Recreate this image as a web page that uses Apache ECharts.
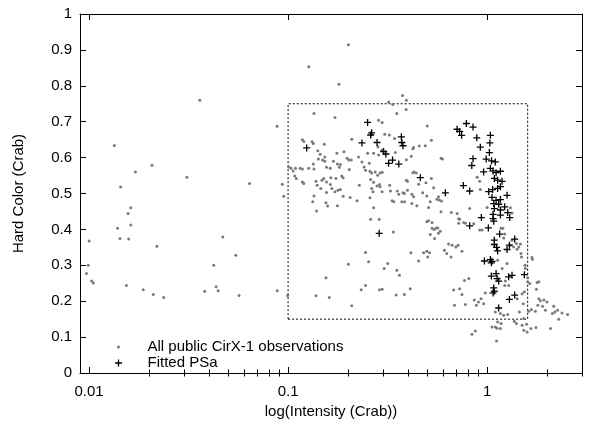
<!DOCTYPE html>
<html>
<head>
<meta charset="utf-8">
<title>Cir X-1 hardness-intensity diagram</title>
<script src="https://cdn.jsdelivr.net/npm/echarts@6/dist/echarts.min.js"></script>
<style>
  html, body { margin: 0; padding: 0; background: #fff; }
  #chart { width: 595px; height: 425px; }
</style>
</head>
<body>
<div id="chart"></div>
<script>
// [intensity (Crab), hard color (Crab)] for every public Cir X-1 observation
const allObservations = [
  [0.0097,0.277],[0.0099,0.300],[0.0100,0.368],[0.0103,0.256],[0.0105,0.251],
  [0.0134,0.634],[0.0139,0.403],[0.0143,0.375],[0.0144,0.518],[0.0154,0.244],[0.0157,0.444],[0.0158,0.373],
  [0.0162,0.460],[0.0162,0.412],[0.0171,0.560],[0.0187,0.232],[0.0207,0.579],[0.0210,0.219],[0.0219,0.353],[0.0237,0.210],
  [0.0310,0.545],[0.0360,0.760],[0.0381,0.228],[0.0423,0.300],[0.0435,0.240],[0.0445,0.229],[0.0470,0.379],
  [0.0546,0.328],[0.0567,0.216],[0.0640,0.528],[0.0880,0.687],[0.0882,0.229],[0.0935,0.526],[0.0950,0.492],[0.0995,0.216],
  [0.118,0.650],[0.127,0.853],[0.135,0.723],[0.172,0.712],[0.180,0.804],[0.201,0.914],[0.209,0.651],[0.285,0.704],
  [0.297,0.698],[0.306,0.665],[0.320,0.755],[0.323,0.663],[0.336,0.748],[0.343,0.653],[0.352,0.723],[0.376,0.773],
  [0.392,0.734],[0.393,0.760],[0.500,0.688],
  [0.120,0.645],[0.132,0.644],[0.134,0.639],[0.152,0.637],[0.141,0.619],[0.145,0.609],[0.142,0.596],[0.149,0.593],
  [0.153,0.602],[0.153,0.590],[0.176,0.612],[0.191,0.616],[0.169,0.590],[0.177,0.582],[0.183,0.581],[0.198,0.598],
  [0.202,0.593],[0.208,0.593],[0.226,0.602],[0.235,0.588],[0.251,0.612],[0.269,0.612],[0.283,0.630],[0.285,0.607],
  [0.297,0.621],[0.346,0.614],[0.416,0.604],[0.424,0.625],[0.427,0.628],[0.456,0.632],[0.489,0.633],[0.525,0.648],
  [0.393,0.594],[0.587,0.598],[0.597,0.596],
  [0.1007,0.574],[0.1035,0.570],[0.106,0.563],[0.109,0.570],[0.115,0.570],[0.118,0.568],[0.127,0.570],[0.134,0.582],
  [0.135,0.568],[0.156,0.573],[0.163,0.570],[0.181,0.573],[0.203,0.567],[0.241,0.574],[0.245,0.565],[0.256,0.584],
  [0.258,0.562],[0.263,0.557],[0.274,0.560],[0.282,0.551],[0.290,0.557],[0.297,0.559],[0.424,0.558],[0.430,0.560],[0.441,0.557],
  [0.108,0.549],[0.110,0.542],[0.118,0.532],[0.120,0.528],[0.138,0.534],[0.148,0.537],[0.151,0.542],[0.156,0.532],
  [0.164,0.544],[0.174,0.542],[0.186,0.549],[0.189,0.544],[0.140,0.523],[0.146,0.514],[0.163,0.525],[0.166,0.514],
  [0.172,0.505],[0.178,0.509],[0.183,0.511],[0.156,0.503],[0.228,0.523],[0.260,0.539],[0.269,0.531],[0.280,0.521],
  [0.288,0.525],[0.263,0.514],[0.267,0.505],[0.290,0.519],[0.297,0.505],[0.324,0.523],[0.327,0.507],[0.354,0.507],
  [0.378,0.502],[0.398,0.509],[0.393,0.537],[0.398,0.534],[0.453,0.526],[0.493,0.530],[0.525,0.542],[0.539,0.516],
  [0.891,0.545],[0.918,0.534],[0.925,0.511],
  [0.135,0.493],[0.133,0.477],[0.139,0.451],[0.155,0.474],[0.158,0.465],[0.177,0.466],[0.189,0.492],[0.205,0.489],
  [0.222,0.480],[0.258,0.488],[0.269,0.460],[0.333,0.480],[0.340,0.477],[0.360,0.498],[0.373,0.477],[0.384,0.500],
  [0.385,0.477],[0.419,0.498],[0.427,0.491],[0.419,0.472],[0.444,0.466],[0.475,0.502],[0.498,0.493],[0.518,0.477],
  [0.508,0.461],[0.560,0.484],[0.570,0.491],[0.575,0.482],[0.590,0.479],[0.587,0.449],[0.661,0.447],[0.707,0.444],
  [0.818,0.458],[1.000,0.461],[1.310,0.460],[1.335,0.446],
  [0.260,0.428],[0.287,0.428],[0.338,0.393],[0.498,0.421],[0.508,0.424],[0.529,0.419],[0.529,0.403],[0.556,0.404],
  [0.542,0.400],[0.566,0.404],[0.582,0.395],[0.518,0.386],[0.570,0.389],[0.720,0.430],[0.720,0.417],[0.728,0.428],
  [0.763,0.419],[0.778,0.417],[0.857,0.416],[0.918,0.398],[0.944,0.398],[1.176,0.403],[1.200,0.403],[1.227,0.387],
  [0.545,0.375],[0.641,0.359],[0.667,0.356],[0.697,0.351],[0.715,0.356],[0.748,0.339],[0.611,0.342],[0.627,0.333],
  [0.659,0.323],[0.414,0.335],[0.480,0.335],[0.498,0.339],[0.514,0.335],[0.503,0.323],[0.453,0.312],[0.245,0.336],
  [0.254,0.310],[0.201,0.303],[0.304,0.291],[0.317,0.305],[0.352,0.286],[0.363,0.272],[1.212,0.376],[1.335,0.370],
  [1.405,0.361],[1.443,0.351],[1.360,0.351],[1.416,0.345],[1.471,0.359],[1.310,0.356],[1.490,0.323],[1.480,0.333],
  [1.553,0.300],[1.558,0.291],[1.680,0.322],[1.690,0.317],[1.130,0.314],[1.260,0.305],[1.190,0.291],
  [0.155,0.265],[0.138,0.215],[0.161,0.210],[0.209,0.187],[0.233,0.232],[0.245,0.244],[0.288,0.232],[0.297,0.233],
  [0.349,0.217],[0.384,0.219],[0.411,0.235],[0.679,0.231],[0.728,0.235],[0.748,0.219],[0.686,0.189],[0.770,0.258],
  [0.809,0.263],[0.778,0.191],[0.862,0.203],[0.905,0.198],[0.933,0.207],[0.961,0.193],[0.884,0.189],[0.980,0.223],
  [0.873,0.117],[0.840,0.108],[1.116,0.089],
  [1.600,0.265],[1.600,0.254],[1.640,0.249],[1.540,0.226],[1.236,0.256],[1.284,0.244],[1.226,0.244],[1.416,0.207],
  [1.500,0.221],[1.520,0.193],[1.454,0.170],[1.270,0.163],[1.100,0.170],[1.167,0.166],[1.212,0.161],[1.130,0.142],
  [1.176,0.138],[1.100,0.128],[1.123,0.125],[1.059,0.128],[1.167,0.124],[1.405,0.138],[1.370,0.144],[1.500,0.133],
  [1.530,0.119],[1.590,0.114],[1.660,0.124],[1.580,0.136],[1.530,0.152],[1.760,0.127],
  [1.820,0.254],[1.785,0.252],[1.770,0.233],[1.820,0.207],[1.800,0.189],[1.855,0.201],[1.930,0.203],[2.000,0.198],
  [1.900,0.186],[1.965,0.175],[2.163,0.186],[2.190,0.170],[2.260,0.175],[2.290,0.150],[2.380,0.167],[2.130,0.166],
  [2.083,0.124],[2.540,0.163],[1.750,0.172],[1.670,0.177],[1.620,0.172]
];

// [intensity (Crab), hard color (Crab)] for the observations with a fitted PSa
const fittedPSa = [
  [0.124,0.627],[0.251,0.698],[0.263,0.669],[0.260,0.663],[0.235,0.641],[0.280,0.642],[0.371,0.658],[0.373,0.642],
  [0.378,0.633],[0.302,0.617],[0.310,0.610],[0.320,0.584],[0.335,0.593],[0.360,0.582],[0.462,0.544],[0.617,0.502],
  [0.287,0.389],
  [0.707,0.679],[0.728,0.673],[0.745,0.662],[0.787,0.695],[0.850,0.685],[0.888,0.655],[0.925,0.629],[1.039,0.662],
  [1.033,0.641],[1.027,0.614],[0.850,0.597],[0.838,0.578],[0.990,0.596],[1.053,0.591],[1.100,0.588],[0.961,0.560],
  [1.039,0.570],[1.072,0.563],[1.110,0.558],[1.167,0.562],[1.088,0.542],[1.130,0.537],[1.190,0.534],[1.067,0.511],
  [1.130,0.514],[1.167,0.519],[0.760,0.522],[0.818,0.507],[1.019,0.505],[1.059,0.489],[1.110,0.481],[1.167,0.483],
  [1.260,0.495],[1.080,0.472],[1.144,0.470],[1.226,0.463],[1.088,0.458],[1.167,0.454],[1.072,0.442],[1.167,0.440],
  [1.270,0.447],[1.300,0.433],[0.936,0.433],[1.072,0.430],[1.080,0.423],[0.818,0.410],[1.015,0.404],[1.157,0.387],
  [1.088,0.370],[1.088,0.358],[1.116,0.350],[1.130,0.340],[1.260,0.344],[1.295,0.356],[1.377,0.373],[0.970,0.312],
  [1.039,0.316],[1.051,0.307],[1.059,0.311],[1.051,0.270],[1.110,0.277],[1.123,0.263],[1.144,0.256],[1.284,0.268],
  [1.335,0.272],[1.540,0.274],[1.080,0.237],[1.072,0.223],[1.088,0.228],[1.295,0.205],[1.377,0.217],[1.144,0.181]
];

// selection window used for the PSa fits: intensity and hard-color limits
const windowIntensity = [0.1, 1.6];
const windowHardColor = [0.15, 0.75];

// axis ranges and tick labels
const xRange = [0.009, 3];
const xLabelValues = [0.01, 0.1, 1];
const xLabelText = ['0.01', '0.1', '1'];
const xMinorTicks = [0.02, 0.03, 0.04, 0.05, 0.06, 0.07, 0.08, 0.09,
                     0.2, 0.3, 0.4, 0.5, 0.6, 0.7, 0.8, 0.9, 2, 3];
const yRange = [0, 1];
const yStep = 0.1;

const seriesNames = ['All public CirX-1 observations', 'Fitted PSa'];

const FONT = '"Liberation Sans", Arial, Helvetica, sans-serif';
const FONT_SIZE = 15;
const INK = '#000';
const DOT_GREY = '#7a7a7a';

// thin filled plus, and a small dot centred in a wider box for the legend
const plusPath = 'path://M2.85,0H4.15V2.85H7V4.15H4.15V7H2.85V4.15H0V2.85H2.85Z';
const legendDotPath = 'path://M0,0M7,7M2.9,2.1L4.1,2.1L4.9,2.9L4.9,4.1L4.1,4.9L2.9,4.9L2.1,4.1L2.1,2.9Z';

function xAxisDef(position, opts) {
  return Object.assign({
    type: 'log',
    logBase: 10,
    position: position,
    min: xRange[0],
    max: xRange[1],
    splitLine: { show: false },
    axisLine: { show: false },
    axisLabel: { show: false },
    axisTick: { show: false }
  }, opts);
}

function yAxisDef(position, opts) {
  return Object.assign({
    type: 'value',
    position: position,
    min: yRange[0],
    max: yRange[1],
    interval: yStep,
    splitLine: { show: false },
    axisLine: { show: true, lineStyle: { color: INK, width: 1 } },
    axisTick: { show: true, inside: true, length: 6, lineStyle: { color: INK, width: 1 } },
    axisLabel: { show: false }
  }, opts);
}

const chart = echarts.init(document.getElementById('chart'), null, { renderer: 'canvas' });

chart.setOption({
  animation: false,
  backgroundColor: '#fff',
  textStyle: { fontFamily: FONT, color: INK },
  grid: { left: 80, right: 13, top: 14, bottom: 52, containLabel: false },
  xAxis: [
    xAxisDef('bottom', {
      name: 'log(Intensity (Crab))',
      nameLocation: 'middle',
      nameGap: 27,
      nameTextStyle: { fontFamily: FONT, fontSize: FONT_SIZE, color: INK },
      axisLine: { show: true, onZero: false, lineStyle: { color: INK, width: 1 } },
      axisTick: { show: true, inside: true, length: 6, customValues: xLabelValues, lineStyle: { color: INK, width: 1 } },
      axisLabel: {
        show: true, margin: 11, fontFamily: FONT, fontSize: FONT_SIZE, color: INK,
        customValues: xLabelValues,
        formatter: function (v) {
          for (let i = 0; i < xLabelValues.length; i++) {
            if (Math.abs(Math.log10(v) - Math.log10(xLabelValues[i])) < 1e-6) return xLabelText[i];
          }
          return '';
        }
      }
    }),
    xAxisDef('bottom', {
      axisTick: { show: true, inside: true, length: 3.5, customValues: xMinorTicks, lineStyle: { color: INK, width: 1 } }
    }),
    xAxisDef('top', {
      axisLine: { show: true, onZero: false, lineStyle: { color: INK, width: 1 } },
      axisTick: { show: true, inside: true, length: 6, customValues: xLabelValues, lineStyle: { color: INK, width: 1 } }
    }),
    xAxisDef('top', {
      axisTick: { show: true, inside: true, length: 3.5, customValues: xMinorTicks, lineStyle: { color: INK, width: 1 } }
    })
  ],
  yAxis: [
    yAxisDef('left', {
      name: 'Hard Color (Crab)',
      nameLocation: 'middle',
      nameGap: 54,
      nameRotate: 90,
      nameTextStyle: { fontFamily: FONT, fontSize: FONT_SIZE, color: INK },
      axisLabel: { show: true, margin: 8, fontFamily: FONT, fontSize: FONT_SIZE, color: INK }
    }),
    yAxisDef('right', {})
  ],
  legend: {
    orient: 'vertical',
    left: 110,
    top: 334,
    itemWidth: 48,
    itemHeight: 7,
    itemGap: 0,
    selectedMode: false,
    textStyle: { fontFamily: FONT, fontSize: FONT_SIZE, color: INK, lineHeight: 16 },
    data: [
      { name: seriesNames[0], icon: legendDotPath, itemStyle: { color: DOT_GREY } },
      { name: seriesNames[1], icon: plusPath, itemStyle: { color: INK } }
    ]
  },
  series: [
    {
      name: seriesNames[0],
      type: 'scatter',
      xAxisIndex: 0,
      yAxisIndex: 0,
      symbol: 'circle',
      symbolSize: 3,
      itemStyle: { color: DOT_GREY, opacity: 1 },
      emphasis: { disabled: true },
      data: allObservations,
      z: 2,
      markArea: {
        silent: true,
        itemStyle: { color: 'rgba(0,0,0,0)', borderColor: INK, borderWidth: 1, borderType: [2, 2] },
        data: [[
          { coord: [windowIntensity[0], windowHardColor[0]] },
          { coord: [windowIntensity[1], windowHardColor[1]] }
        ]]
      }
    },
    {
      name: seriesNames[1],
      type: 'scatter',
      xAxisIndex: 0,
      yAxisIndex: 0,
      symbol: plusPath,
      symbolSize: 7,
      itemStyle: { color: INK, opacity: 1 },
      emphasis: { disabled: true },
      data: fittedPSa,
      z: 3
    }
  ]
});
</script>
</body>
</html>
